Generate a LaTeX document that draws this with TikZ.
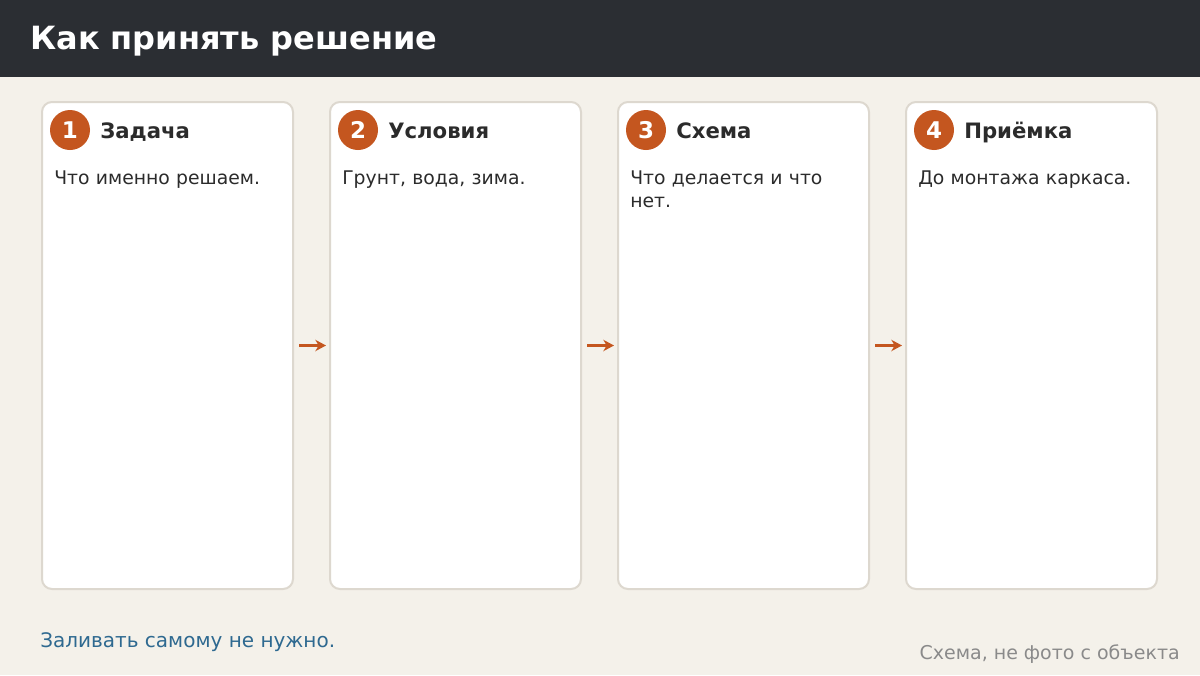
\documentclass[tikz,border=0pt]{standalone}
\usepackage{fontspec}
\setmainfont{DejaVu Sans}
\usepackage{xcolor}
\usepackage{tikz}
\usetikzlibrary{positioning,arrows.meta}

\definecolor{pagebg}{HTML}{F4F1EA}
\definecolor{headbg}{HTML}{2B2E33}
\definecolor{cardline}{HTML}{DDD8CF}
\definecolor{rust}{HTML}{C4561F}
\definecolor{inkdark}{HTML}{2B2B2B}
\definecolor{noteblue}{HTML}{2E6990}
\definecolor{notegray}{HTML}{8A8A8A}

\begin{document}
\begin{tikzpicture}[x=0.75pt,y=-0.75pt,
		card/.style={draw=cardline,line width=1.5pt,fill=white,rounded corners=7.5pt,
			minimum width=188.25pt,minimum height=365.25pt,inner sep=0pt,anchor=north west},
		badge/.style={circle,fill=rust,minimum size=30pt,inner sep=0pt,
			text=white,font=\fontsize{17.25}{19}\selectfont\bfseries},
		cardtitle/.style={inner sep=0pt,anchor=base west,text=inkdark,font=\fontsize{15.9}{18}\selectfont\bfseries},
		cardtext/.style={inner sep=0pt,anchor=base west,text width=169pt,align=left,
			text=inkdark,font=\fontsize{14.1}{17.25}\selectfont},
		flow/.style={-{Stealth[length=8pt,width=8.5pt,inset=2.5pt]},line width=2.25pt,draw=rust,shorten <=3.75pt,shorten >=2.25pt}]
		\useasboundingbox (0,0) rectangle (1200,675);
		\fill[pagebg] (0,0) rectangle (1200,675);
		\fill[headbg] (0,0) rectangle (1200,77);
		\node[anchor=base west,inner sep=0pt,text=white,font=\fontsize{24}{28}\selectfont\bfseries]
			(heading) at (30,49) {Как принять решение};

		\foreach \i/\name/\body in {1/Задача/Что именно решаем.,
				2/Условия/{Грунт, вода, зима.},
				3/Схема/Что делается и что нет.,
				4/Приёмка/До монтажа каркаса.}{
			\node[card] (card\i) at ({41+288*(\i-1)},101) {};
			\node[badge] (num\i) at ({70+288*(\i-1)},130) {\i};
			\node[cardtitle] (title\i) at ({100+288*(\i-1)},138) {\name};
			\node[cardtext] (text\i) at ({54+288*(\i-1)},184) {\body};
		}

		\draw[flow] (card1.east) -- (card2.west);
		\draw[flow] (card2.east) -- (card3.west);
		\draw[flow] (card3.east) -- (card4.west);

		\node[anchor=base west,inner sep=0pt,text=noteblue,font=\fontsize{15}{18}\selectfont]
			(note) at (40,647) {Заливать самому не нужно.};
		\node[anchor=base east,inner sep=0pt,text=notegray,font=\fontsize{14.25}{17}\selectfont]
			(credit) at (1180,659) {Схема, не фото с объекта};
	\end{tikzpicture}
\end{document}
